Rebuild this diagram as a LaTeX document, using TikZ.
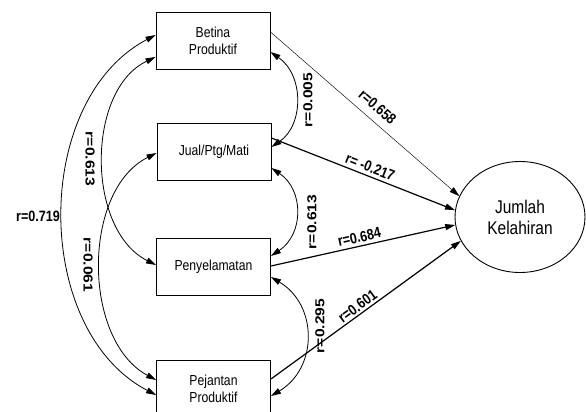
\documentclass[tikz,border=0pt]{standalone}
\usepackage{fontspec}
\setmainfont{Liberation Sans}
\newfontfamily\hfont[FakeStretch=0.84]{Liberation Sans}
\newfontfamily\vfont[FakeStretch=1.2]{Liberation Sans}
\usetikzlibrary{arrows.meta,shapes.geometric}
\begin{document}
\begin{tikzpicture}[x=1pt,y=-1pt,
  box/.style={draw, line width=0.9pt, minimum width=114pt, minimum height=57pt, inner sep=0pt, align=center, font=\hfont\fontsize{14.5}{16.5}\selectfont},
  lbl/.style={font=\hfont\bfseries\fontsize{15}{16}\selectfont, inner sep=1pt},
  vlbl/.style={font=\vfont\bfseries\fontsize{13}{14}\selectfont, inner sep=1pt},
  corr/.style={{Triangle[length=10pt,width=6pt]}-{Triangle[length=10pt,width=6pt]}, line width=0.8pt},
  effarrow/.style={-{Triangle[length=10pt,width=6pt]}, line width=1.2pt},
  thinarrow/.style={-{Triangle[length=10pt,width=6pt]}, line width=0.45pt},
]
\useasboundingbox (0,0) rectangle (586,412);
\node[box] (B) at (213,41) {Betina\\Produktif};
\node[box] (J) at (214,152) {Jual/Ptg/Mati};
\node[box] (P) at (213.5,267) {Penyelamatan};
\node[box] (Q) at (213.5,389) {Pejantan\\Produktif};
\node[draw, ellipse, line width=0.9pt, minimum width=130pt, minimum height=111pt, inner sep=0pt, align=center, font=\hfont\fontsize{18.4}{21}\selectfont] (E) at (520,217) {Jumlah\\Kelahiran};

% correlations, left
\draw[corr] ([yshift=6pt]B.west) .. controls (32,100) and (32,330) .. ([yshift=-6pt]Q.west);
\draw[corr] ([yshift=-16pt]B.west) .. controls (86,90) and (86,230) .. ([yshift=2pt]P.west);
\draw[corr] ([yshift=-1pt]J.west) .. controls (82,190) and (82,340) .. ([yshift=9pt]Q.west);
% correlations, right
\draw[corr] ([yshift=-11pt]B.east) .. controls (304,75) and (304,125) .. ([yshift=5pt]J.east);
\draw[corr] ([yshift=-16pt]J.east) .. controls (304,190) and (304,234) .. ([yshift=11pt]P.east);
\draw[corr] ([yshift=-10pt]P.east) .. controls (318,305) and (318,368) .. ([yshift=-7pt]Q.east);

% effects
\draw[thinarrow] ([yshift=9pt]B.east) -- node[lbl, sloped, above=7pt, pos=0.52] (l658) {r=0.658} (E.161);
\draw[effarrow] ([yshift=14pt]J.east) -- node[lbl, sloped, above=2pt, pos=0.52] (l217) {r= -0.217} (E.174);
\draw[effarrow] ([yshift=1pt]P.east) -- node[lbl, sloped, above=2pt, pos=0.49] (l684) {r=0.684} (E.187);
\draw[effarrow] ([yshift=10pt]Q.east) -- node[lbl, sloped, above=1pt, pos=0.48] (l601) {r=0.601} (E.202);

% labels
\node[lbl] (l719) at (38,216) {r=0.719};
\node[vlbl, rotate=-90] (l613a) at (90,159) {r=0.613};
\node[vlbl, rotate=-90] (l061) at (88,265) {r=0.061};
\node[vlbl, rotate=90] (l005) at (308,100) {r=0.005};
\node[vlbl, rotate=90] (l613b) at (312,222) {r=0.613};
\node[vlbl, rotate=90] (l295) at (320,326) {r=0.295};
\end{tikzpicture}
\end{document}
